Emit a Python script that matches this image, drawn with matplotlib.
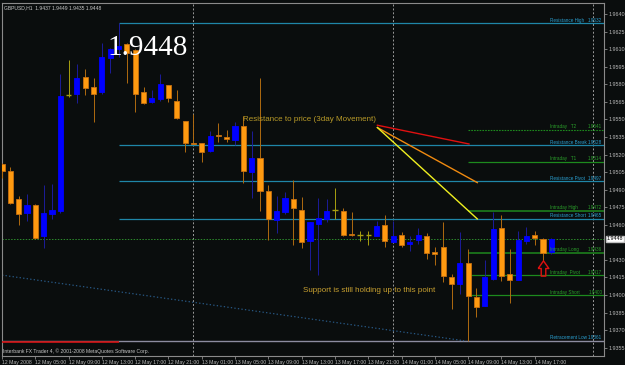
import matplotlib
matplotlib.use("Agg")
import matplotlib.pyplot as plt
from matplotlib.path import Path
from matplotlib.transforms import blended_transform_factory

# GBPUSD H1, bars counted in hours from 12 May 2008 00:00
hours = list(range(1, 68))
opens = [1.9512, 1.9506, 1.9482, 1.9470, 1.9477, 1.9450, 1.9469, 1.9472, 1.9571, 1.9572,
         1.9586, 1.9578, 1.9573, 1.9602, 1.9610, 1.9614, 1.9609, 1.9573, 1.9565, 1.9567,
         1.9579, 1.9566, 1.9549, 1.9530, 1.9530, 1.9523, 1.9537, 1.9535, 1.9532, 1.9544,
         1.9505, 1.9517, 1.9489, 1.9464, 1.9471, 1.9482, 1.9473, 1.9446, 1.9461, 1.9465,
         1.9473, 1.9472, 1.9452, 1.9451, 1.9451, 1.9450, 1.9460, 1.9445, 1.9451, 1.9444,
         1.9447, 1.9450, 1.9437, 1.9441, 1.9415, 1.9409, 1.9427, 1.9398, 1.9391, 1.9414,
         1.9457, 1.9418, 1.9413, 1.9446, 1.9451, 1.9448, 1.9437]
highs = [1.9513, 1.9509, 1.9485, 1.9486, 1.9478, 1.9494, 1.9495, 1.9589, 1.9601, 1.9597,
         1.9593, 1.9585, 1.9615, 1.9611, 1.9632, 1.9615, 1.9610, 1.9578, 1.9575, 1.9589,
         1.9579, 1.9575, 1.9549, 1.9555, 1.9530, 1.9540, 1.9547, 1.9541, 1.9548, 1.9553,
         1.9540, 1.9585, 1.9494, 1.9485, 1.9488, 1.9498, 1.9484, 1.9462, 1.9483, 1.9482,
         1.9491, 1.9474, 1.9471, 1.9455, 1.9455, 1.9463, 1.9468, 1.9463, 1.9454, 1.9450,
         1.9457, 1.9453, 1.9441, 1.9462, 1.9418, 1.9454, 1.9439, 1.9406, 1.9430, 1.9471,
         1.9468, 1.9439, 1.9455, 1.9458, 1.9455, 1.9449, 1.9449]
lows = [1.9500, 1.9478, 1.9460, 1.9463, 1.9448, 1.9440, 1.9465, 1.9470, 1.9569, 1.9564,
        1.9571, 1.9548, 1.9572, 1.9590, 1.9603, 1.9581, 1.9556, 1.9563, 1.9564, 1.9566,
        1.9565, 1.9550, 1.9522, 1.9529, 1.9514, 1.9522, 1.9531, 1.9531, 1.9528, 1.9496,
        1.9483, 1.9472, 1.9447, 1.9453, 1.9469, 1.9443, 1.9440, 1.9421, 1.9417, 1.9462,
        1.9465, 1.9450, 1.9450, 1.9446, 1.9443, 1.9450, 1.9441, 1.9445, 1.9441, 1.9438,
        1.9444, 1.9431, 1.9426, 1.9411, 1.9388, 1.9401, 1.9361, 1.9381, 1.9391, 1.9413,
        1.9412, 1.9393, 1.9413, 1.9444, 1.9443, 1.9429, 1.9435]
closes = [1.9506, 1.9479, 1.9469, 1.9477, 1.9449, 1.9470, 1.9473, 1.9570, 1.9571, 1.9585,
          1.9577, 1.9572, 1.9603, 1.9610, 1.9613, 1.9607, 1.9572, 1.9564, 1.9568, 1.9580,
          1.9568, 1.9551, 1.9530, 1.9529, 1.9522, 1.9536, 1.9536, 1.9533, 1.9544, 1.9506,
          1.9517, 1.9489, 1.9465, 1.9472, 1.9483, 1.9474, 1.9445, 1.9462, 1.9466, 1.9472,
          1.9473, 1.9451, 1.9451, 1.9451, 1.9451, 1.9459, 1.9446, 1.9450, 1.9443, 1.9445,
          1.9451, 1.9436, 1.9435, 1.9416, 1.9409, 1.9427, 1.9399, 1.9390, 1.9415, 1.9456,
          1.9416, 1.9413, 1.9447, 1.9450, 1.9449, 1.9436, 1.9448]

# resistance levels (start at the 1.9632 high bar), intraday levels (start at bar 57)
res_names = ["Resistance High", "Resistance Break", "Resistance Pivot", "Resistance Short"]
res_prices = [1.9632, 1.9528, 1.9497, 1.9465]
intra_names = ["Intraday   T2", "Intraday   T1", "Intraday High", "Intraday Long",
               "Intraday  Pivot", "Intraday Short"]
intra_prices = [1.9541, 1.9514, 1.9472, 1.9436, 1.9417, 1.9400]
retrace_low = 1.9361
last_price = 1.9448

time_ticks = [1, 5, 9, 13, 17, 21, 25, 29, 33, 37, 41, 45, 49, 53, 57, 61, 65]
time_labels = ["12 May 2008", "12 May 05:00", "12 May 09:00", "12 May 13:00", "12 May 17:00",
               "12 May 21:00", "13 May 01:00", "13 May 05:00", "13 May 09:00", "13 May 13:00",
               "13 May 17:00", "13 May 21:00", "14 May 01:00", "14 May 05:00", "14 May 09:00",
               "14 May 13:00", "14 May 17:00"]
price_ticks = [1.9355, 1.9370, 1.9385, 1.9400, 1.9415, 1.9430, 1.9460, 1.9475, 1.9490,
               1.9505, 1.9520, 1.9535, 1.9550, 1.9565, 1.9580, 1.9595, 1.9610, 1.9625, 1.9640]

BG = "#0a0d0d"
TEAL = "#1f86a8"
TEAL_TXT = "#2a9fd0"
GREEN = "#1d8a1d"
GREY = "#8a8a8a"
TICKC = "#b8b8b8"
SMALL = "Liberation Sans"

fig = plt.figure(figsize=(6.25, 3.65), dpi=100, facecolor=BG)
ax = fig.add_axes([2 / 625, 9 / 365, 602 / 625, 353 / 365], facecolor=BG)
ax.set_xlim(1.08, 73.32)
ax.set_ylim(1.934794, 1.964939)

# day separators
for d in [24, 48, 72]:
    ax.axvline(d, color="#9a9a9a", lw=0.7, ls=(0, (2, 2)), zorder=1)

# objects: horizontal levels
for p in res_prices:
    ax.hlines(p, 15, 74, color=TEAL, lw=0.9, zorder=2)
for name, p in zip(intra_names, intra_prices):
    if "T2" in name:
        ax.hlines(p, 57, 74, color=GREEN, lw=0.8, ls=(0, (1.5, 1)), zorder=2)
    elif "High" in name or "Long" in name:
        ax.hlines(p, 57, 74, color="#1a6e1a", lw=1.4, zorder=2)
    else:
        ax.hlines(p, 57, 74, color=GREEN, lw=0.9, zorder=2)
ax.hlines(last_price, 0, 74, color="#2c8c2c", lw=0.7, ls=(0, (1.5, 1.5)), zorder=2)
ax.hlines(retrace_low, 0, 74, color="#8c8ca0", lw=1.0, zorder=2)
ax.hlines(retrace_low - 0.00012, 0, 15, color="#d01010", lw=1.2, zorder=3)

# trend line down to the retracement low
ax.plot([1.0, 56.5], [1.9417, 1.9361], color="#2a5f90", lw=0.8, ls=(0, (1.2, 2.0)), zorder=2)

# resistance fan
ax.plot([46.1, 57.1], [1.9545, 1.9529], color="#e01010", lw=1.0, zorder=4)
ax.plot([46.1, 58.1], [1.9543, 1.9496], color="#f08a10", lw=1.0, zorder=4)
ax.plot([46.1, 58.1], [1.9543, 1.9465], color="#f0f020", lw=1.0, zorder=4)

# candles
w = 0.62
for h, o, hi, lo, c in zip(hours, opens, highs, lows, closes):
    if c > o:
        wick, body, edge = "#1c1c9a", "#0000ff", "#0000ff"
    elif c < o:
        wick, body, edge = "#b06a10", "#ff9a10", "#c87010"
    else:
        wick, body, edge = "#a8a010", None, None
    ax.vlines(h, lo, hi, color=wick, lw=0.7, zorder=5)
    if body is None:
        ax.hlines(o, h - w / 2, h + w / 2, color=wick, lw=1.0, zorder=6)
    else:
        ax.bar(h, abs(c - o) if abs(c - o) > 0.00005 else 0.00006, w,
               bottom=min(o, c), color=body, edgecolor=edge, lw=0.6, zorder=6)

# red up arrow marker
arrow = Path([(-0.35, 0), (0, 0.5), (0.35, 0), (0.15, 0), (0.15, -0.5),
              (-0.15, -0.5), (-0.15, 0), (-0.35, 0)])
ax.plot([66], [1.94235], marker=arrow, ms=11, mfc="none", mec="#e01010", mew=1.0, zorder=7)

# level labels at the right end of the chart
tr = blended_transform_factory(ax.transAxes, ax.transData)
lbl_kw = dict(fontsize=3.3, family=SMALL, va="bottom", transform=tr, zorder=8)
for name, p in zip(res_names, res_prices):
    ax.text(0.911, p + 0.00004, name, color=TEAL_TXT, ha="left", **lbl_kw)
    ax.text(0.997, p + 0.00004, f"{p:.4f}", color=TEAL_TXT, ha="right", **lbl_kw)
for name, p in zip(intra_names, intra_prices):
    ax.text(0.911, p + 0.00004, name, color="#2aa02a", ha="left", **lbl_kw)
    ax.text(0.997, p + 0.00004, f"{p:.4f}", color="#2aa02a", ha="right", **lbl_kw)
ax.text(0.911, retrace_low + 0.00004, "Retracement Low", color=TEAL_TXT, ha="left", **lbl_kw)
ax.text(0.997, retrace_low + 0.00004, f"{retrace_low:.4f}", color=TEAL_TXT, ha="right", **lbl_kw)

# annotations
ax.text(13.7, 1.96050, f"{last_price:.4f}", color="white", fontsize=21,
        family="Liberation Serif", ha="left", va="baseline", zorder=9)
ax.text(30.0, 1.9550, "Resistance to price (3day Movement)", color="#b89a28",
        fontsize=5.8, family=SMALL, ha="left", va="center", zorder=9)
ax.text(37.2, 1.9404, "Support is still holding up to this point", color="#c8a030",
        fontsize=5.8, family=SMALL, ha="left", va="center", zorder=9)
ax.text(0.004, 0.993, "GBPUSD,H1  1.9437 1.9449 1.9435 1.9448", transform=ax.transAxes,
        color="#c8c8c8", fontsize=3.6, family=SMALL, ha="left", va="top", zorder=9)
ax.text(0.002, 0.006, "Interbank FX Trader 4, \u00a9 2001-2008 MetaQuotes Software Corp.",
        transform=ax.transAxes, color="#c8c8c8", fontsize=3.6, family=SMALL,
        ha="left", va="bottom", zorder=9)

# axes styling
for s in ax.spines.values():
    s.set_color(GREY)
    s.set_linewidth(0.8)
ax.yaxis.tick_right()
ax.set_yticks(price_ticks)
ax.set_yticklabels([f"{p:.4f}" for p in price_ticks], family=SMALL)
ax.tick_params(axis="y", colors=GREY, labelcolor=TICKC, labelsize=3.9, length=2, width=0.6, pad=1.0)
ax.set_xticks(time_ticks)
ax.set_xticklabels(time_labels, family=SMALL)
ax.tick_params(axis="x", colors=GREY, labelcolor=TICKC, labelsize=3.7, length=2, width=0.6, pad=1)
for t in ax.get_xticklabels():
    t.set_ha("left")

# current price box on the scale
ax.annotate(f"{last_price:.4f}", xy=(1.0, last_price), xycoords=tr, xytext=(2.0, 0),
            textcoords="offset points", color="black", fontsize=3.9, family=SMALL,
            va="center", ha="left",
            bbox=dict(boxstyle="square,pad=0.15", fc="white", ec="#c0c0c0"), annotation_clip=False)

fig.savefig("out.png", dpi=100, facecolor=BG)
